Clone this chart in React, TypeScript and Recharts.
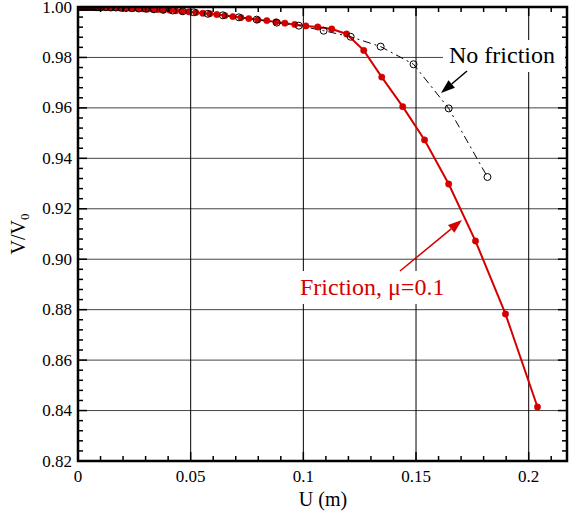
import React from "react";
import { CartesianGrid, Line, LineChart, XAxis, YAxis } from "recharts";

// friction, mu = 0.1 (red, filled dots)
const FRICTION_U = [
  0, 0.0004, 0.0009, 0.0013, 0.0018, 0.0022, 0.0027, 0.0031, 0.0035, 0.004, 0.0044, 0.0053, 0.0062, 0.0071,
  0.008, 0.0089, 0.0098, 0.0106, 0.0115, 0.0129, 0.0142, 0.0155, 0.0168, 0.0182, 0.0195, 0.0213, 0.023, 0.0248,
  0.0266, 0.0288, 0.031, 0.0332, 0.0355, 0.0381, 0.0408, 0.0434, 0.0461, 0.0492, 0.0523, 0.0554, 0.0585, 0.0616,
  0.0652, 0.0687, 0.0723, 0.0758, 0.0798, 0.0838, 0.0878, 0.0918, 0.0962, 0.1011, 0.1064, 0.1126, 0.1192, 0.1268,
  0.1348, 0.1441, 0.1538, 0.1645, 0.1764, 0.1897, 0.2039,
];
const FRICTION_V = [
  1.0, 1.0, 1.0, 1.0, 1.0, 1.0, 1.0, 1.0, 1.0, 1.0, 1.0, 1.0, 1.0, 1.0,
  0.9999, 0.9999, 0.9999, 0.9999, 0.9999, 0.9999, 0.9998, 0.9998, 0.9998, 0.9997, 0.9997, 0.9996, 0.9996, 0.9995,
  0.9994, 0.9993, 0.9992, 0.9991, 0.999, 0.9988, 0.9987, 0.9985, 0.9983, 0.9981, 0.9978, 0.9975, 0.9973, 0.997,
  0.9966, 0.9962, 0.9958, 0.9954, 0.9949, 0.9946, 0.9941, 0.9936, 0.9931, 0.9925, 0.9921, 0.9913, 0.9893, 0.9828,
  0.9722, 0.9605, 0.9473, 0.9298, 0.9072, 0.8783, 0.8414,
];

// no friction (black, open circles)
const NOFRIC_U = [
  0, 0.0009, 0.0018, 0.0027, 0.0035, 0.0044, 0.0053, 0.0062, 0.0071, 0.008, 0.0089, 0.0102, 0.0124, 0.0146,
  0.0168, 0.0191, 0.0213, 0.0239, 0.027, 0.0301, 0.0337, 0.0377, 0.0421, 0.0465, 0.0514, 0.0576, 0.0643, 0.0714,
  0.0793, 0.0882, 0.098, 0.109, 0.121, 0.1343, 0.1489, 0.1645, 0.1817,
];
const NOFRIC_V = [
  1.0, 1.0, 1.0, 1.0, 1.0, 1.0, 1.0, 1.0, 1.0, 0.9999, 0.9999, 0.9999, 0.9999, 0.9998,
  0.9998, 0.9997, 0.9996, 0.9995, 0.9994, 0.9993, 0.9991, 0.9989, 0.9986, 0.9983, 0.9979, 0.9973, 0.9967, 0.9959,
  0.995, 0.9938, 0.9926, 0.9906, 0.9882, 0.9843, 0.9773, 0.9598, 0.9326,
];

const X_MAJOR = [0, 0.05, 0.1, 0.15, 0.2];
const X_LABELS = ["0", "0.05", "0.1", "0.15", "0.2"];
const Y_MAJOR = [0.82, 0.84, 0.86, 0.88, 0.9, 0.92, 0.94, 0.96, 0.98, 1.0];
const Y_LABELS = ["0.82", "0.84", "0.86", "0.88", "0.90", "0.92", "0.94", "0.96", "0.98", "1.00"];

const X_DOMAIN: [number, number] = [0, 0.217];
const Y_DOMAIN: [number, number] = [0.82, 1.0];

const friction = FRICTION_U.map((u, i) => ({ u, v: FRICTION_V[i] }));
const noFriction = NOFRIC_U.map((u, i) => ({ u, v: NOFRIC_V[i] }));

// minor ticks: 5 per x major interval, 5 per y major interval
const xTicks: number[] = [];
for (let k = 0; k <= 21; k++) xTicks.push(+(k * 0.01).toFixed(4));
const yTicks: number[] = [];
for (let k = 0; k <= 45; k++) yTicks.push(+(0.82 + k * 0.004).toFixed(4));

const W = 571;
const H = 514;
const LEFT = 78;
const TOP = 7;
const RIGHT = 567;
const BOTTOM = 461;
const RED = "#d40000";
const SERIF = "Liberation Serif";

const majorIndex = (list: number[], v: number) => list.findIndex((m) => Math.abs(m - v) < 1e-6);

function XTick(props: any) {
  const { x, payload } = props;
  const i = majorIndex(X_MAJOR, payload.value);
  const len = i >= 0 ? 9 : 5;
  return (
    <g>
      <line x1={x} x2={x} y1={BOTTOM} y2={BOTTOM - len} stroke="#000" strokeWidth={1.5} />
      <line x1={x} x2={x} y1={TOP} y2={TOP + len} stroke="#000" strokeWidth={1.5} />
      {i >= 0 && (
        <text x={x} y={BOTTOM + 21} textAnchor="middle" fontFamily={SERIF} fontSize={17} fill="#000">
          {X_LABELS[i]}
        </text>
      )}
    </g>
  );
}

function YTick(props: any) {
  const { y, payload } = props;
  const i = majorIndex(Y_MAJOR, payload.value);
  const len = i >= 0 ? 9 : 5;
  return (
    <g>
      <line x1={LEFT} x2={LEFT + len} y1={y} y2={y} stroke="#000" strokeWidth={1.5} />
      <line x1={RIGHT} x2={RIGHT - len} y1={y} y2={y} stroke="#000" strokeWidth={1.5} />
      {i >= 0 && (
        <text x={72} y={y + 5.5} textAnchor="end" fontFamily={SERIF} fontSize={17} fill="#000">
          {Y_LABELS[i]}
        </text>
      )}
    </g>
  );
}

function Arrow({ x1, y1, x2, y2, color }: { x1: number; y1: number; x2: number; y2: number; color: string }) {
  const dx = x2 - x1;
  const dy = y2 - y1;
  const L = Math.hypot(dx, dy);
  const ux = dx / L;
  const uy = dy / L;
  const head = 14;
  const half = 5;
  const bx = x2 - ux * head;
  const by = y2 - uy * head;
  const pts = `${x2},${y2} ${bx - uy * half},${by + ux * half} ${bx + uy * half},${by - ux * half}`;
  return (
    <g>
      <line x1={x1} y1={y1} x2={bx} y2={by} stroke={color} strokeWidth={1.5} />
      <polygon points={pts} fill={color} />
    </g>
  );
}

export default function App() {
  return (
    <div style={{ position: "absolute", left: 0, top: 0, width: W, height: H, background: "#fff" }}>
      <LineChart width={W} height={H} margin={{ top: TOP, right: W - RIGHT, left: 0, bottom: 0 }}>
        <CartesianGrid vertical={false} horizontalValues={Y_MAJOR.slice(1, -1)} stroke="#444" strokeWidth={1} />
        <CartesianGrid horizontal={false} verticalValues={X_MAJOR.slice(1)} stroke="#000" strokeWidth={1} />
        <XAxis
          dataKey="u"
          type="number"
          domain={X_DOMAIN}
          ticks={xTicks}
          tick={XTick}
          tickLine={false}
          axisLine={false}
          height={H - BOTTOM}
          allowDataOverflow
          interval={0}
        />
        <YAxis
          type="number"
          domain={Y_DOMAIN}
          ticks={yTicks}
          tick={YTick}
          tickLine={false}
          axisLine={false}
          width={LEFT}
          allowDataOverflow
          interval={0}
        />
        <Line
          data={friction}
          dataKey="v"
          stroke={RED}
          strokeWidth={2}
          dot={{ r: 3.2, fill: RED, stroke: RED, strokeWidth: 0.5 }}
          isAnimationActive={false}
        />
        <Line
          data={noFriction}
          dataKey="v"
          stroke="#000"
          strokeWidth={1}
          strokeDasharray="8 4 2 4"
          dot={{ r: 3.5, fill: "none", stroke: "#000", strokeWidth: 1, strokeDasharray: "0" }}
          isAnimationActive={false}
        />
      </LineChart>
      <svg width={W} height={H} style={{ position: "absolute", left: 0, top: 0, pointerEvents: "none" }}>
        <rect x={LEFT} y={TOP} width={RIGHT - LEFT} height={BOTTOM - TOP} fill="none" stroke="#000" strokeWidth={2.5} />
        <rect x={443} y={40} width={122} height={32} fill="#fff" />
        <text x={449} y={63} fontFamily={SERIF} fontSize={24} fill="#000">
          No friction
        </text>
        <Arrow x1={467} y1={71} x2={441} y2={93} color="#000" />
        <rect x={296} y={271} width={154} height={33} fill="#fff" />
        <text x={300} y={295} fontFamily={SERIF} fontSize={24} fill={RED}>
          Friction, μ=0.1
        </text>
        <Arrow x1={400} y1={271} x2={462} y2={220} color={RED} />
        <text x={323} y={506} textAnchor="middle" fontFamily={SERIF} fontSize={20} fill="#000">
          U (m)
        </text>
        <text transform="translate(25,234) rotate(-90)" textAnchor="middle" fontFamily={SERIF} fontSize={20} fill="#000">
          V/V
          <tspan fontSize={13} dy={4}>
            0
          </tspan>
        </text>
      </svg>
    </div>
  );
}
